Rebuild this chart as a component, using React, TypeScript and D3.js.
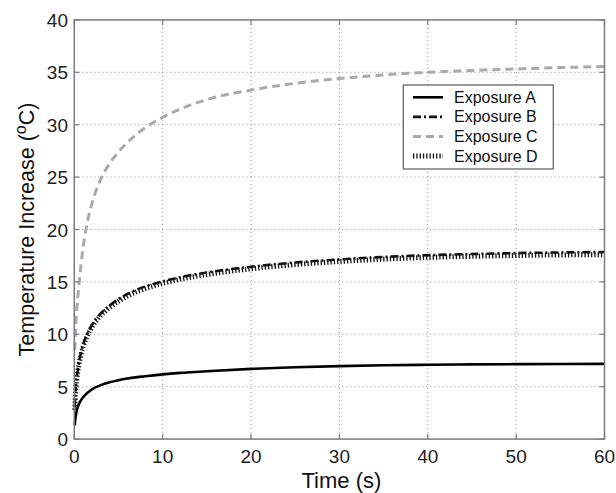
import React, { useEffect, useRef } from "react";
import * as d3 from "d3";

// time samples (s) and temperature increase (°C)
const times = [0.05, 0.1, 0.2, 0.3, 0.5, 0.75, 1, 1.5, 2, 3, 4, 5, 6, 8, 10, 12, 15, 20, 25, 30, 35, 40, 45, 50, 55, 60];
const exposureA = [1.3, 1.8, 2.4, 2.8, 3.3, 3.7, 4.0, 4.42, 4.75, 5.15, 5.42, 5.62, 5.78, 6.0, 6.18, 6.32, 6.48, 6.7, 6.85, 6.96, 7.04, 7.09, 7.13, 7.15, 7.17, 7.18];
const exposureB = [3.0, 4.0, 5.2, 6.0, 7.2, 8.2, 9.0, 10.1, 10.9, 12.0, 12.75, 13.35, 13.85, 14.55, 15.05, 15.45, 15.9, 16.45, 16.85, 17.15, 17.38, 17.55, 17.66, 17.75, 17.81, 17.85];
const exposureC = [8.5, 9.5, 11.3, 12.6, 14.5, 16.6, 18.3, 20.8, 22.5, 24.8, 26.3, 27.4, 28.3, 29.7, 30.7, 31.5, 32.4, 33.3, 33.95, 34.4, 34.75, 35.0, 35.18, 35.32, 35.45, 35.55];
const exposureD = [2.8, 3.8, 5.0, 5.8, 7.0, 8.0, 8.8, 9.9, 10.7, 11.8, 12.55, 13.15, 13.65, 14.35, 14.85, 15.25, 15.7, 16.25, 16.65, 16.95, 17.17, 17.33, 17.44, 17.52, 17.57, 17.6];
const seriesNames = ["Exposure A", "Exposure B", "Exposure C", "Exposure D"];
const xTicks = [0, 10, 20, 30, 40, 50, 60];
const yTicks = [0, 5, 10, 15, 20, 25, 30, 35, 40];

const styles = [
  { stroke: "#000", width: 2.6, dash: null },
  { stroke: "#111", width: 2.6, dash: "8,3,2,3" },
  { stroke: "#aaa", width: 3, dash: "8,5" },
  { stroke: "#111", width: 5, dash: "1.3,2" },
];

const App = () => {
  const ref = useRef<SVGSVGElement>(null);

  useEffect(() => {
    const svg = d3.select(ref.current);
    svg.selectAll("*").remove();

    const left = 74.3, right = 604.5, top = 19.9, bottom = 439.1;
    const font = "'Liberation Sans', Arial, sans-serif";

    const x = d3.scaleLinear().domain([0, 60]).range([left, right]);
    const y = d3.scaleLinear().domain([0, 40]).range([bottom, top]);

    // grid
    const grid = svg.append("g").attr("stroke", "#8a8a8a").attr("stroke-width", 1).attr("stroke-dasharray", "1,3");
    xTicks.slice(1, -1).forEach((t) => {
      grid.append("line").attr("x1", x(t)).attr("x2", x(t)).attr("y1", top).attr("y2", bottom);
    });
    yTicks.slice(1, -1).forEach((t) => {
      grid.append("line").attr("x1", left).attr("x2", right).attr("y1", y(t)).attr("y2", y(t));
    });

    // curves
    const allSeries = [exposureA, exposureB, exposureC, exposureD];
    const line = d3
      .line<number>()
      .x((d, i) => x(times[i]))
      .y((d) => y(d))
      .curve(d3.curveMonotoneX);

    const order = [2, 3, 1, 0];
    order.forEach((k) => {
      const s = styles[k];
      svg
        .append("path")
        .datum(allSeries[k])
        .attr("fill", "none")
        .attr("stroke", s.stroke)
        .attr("stroke-width", s.width)
        .attr("stroke-dasharray", s.dash)
        .attr("d", line);
    });

    // axes box and ticks
    const axisColor = "#7a7a7a";
    svg
      .append("rect")
      .attr("x", left)
      .attr("y", top)
      .attr("width", right - left)
      .attr("height", bottom - top)
      .attr("fill", "none")
      .attr("stroke", axisColor)
      .attr("stroke-width", 1.5);

    const ticks = svg.append("g").attr("stroke", axisColor).attr("stroke-width", 1.2);
    xTicks.forEach((t) => {
      ticks.append("line").attr("x1", x(t)).attr("x2", x(t)).attr("y1", bottom).attr("y2", bottom - 5);
      ticks.append("line").attr("x1", x(t)).attr("x2", x(t)).attr("y1", top).attr("y2", top + 5);
    });
    yTicks.forEach((t) => {
      ticks.append("line").attr("x1", left).attr("x2", left + 5).attr("y1", y(t)).attr("y2", y(t));
      ticks.append("line").attr("x1", right).attr("x2", right - 5).attr("y1", y(t)).attr("y2", y(t));
    });

    // tick labels
    svg
      .append("g")
      .selectAll("text")
      .data(xTicks)
      .enter()
      .append("text")
      .attr("x", (d) => x(d))
      .attr("y", 463)
      .attr("text-anchor", "middle")
      .attr("font-family", font)
      .attr("font-size", 19)
      .attr("fill", "#222")
      .text((d) => d);

    svg
      .append("g")
      .selectAll("text")
      .data(yTicks)
      .enter()
      .append("text")
      .attr("x", 68)
      .attr("y", (d) => y(d) + 7)
      .attr("text-anchor", "end")
      .attr("font-family", font)
      .attr("font-size", 19)
      .attr("fill", "#222")
      .text((d) => d);

    // axis titles
    svg
      .append("text")
      .attr("x", (left + right) / 2 + 2)
      .attr("y", 488)
      .attr("text-anchor", "middle")
      .attr("font-family", font)
      .attr("font-size", 22)
      .attr("fill", "#111")
      .text("Time (s)");

    const yTitle = svg
      .append("text")
      .attr("transform", `translate(34,${(top + bottom) / 2}) rotate(-90)`)
      .attr("text-anchor", "middle")
      .attr("font-family", font)
      .attr("font-size", 21.5)
      .attr("fill", "#111");
    yTitle.append("tspan").text("Temperature Increase (");
    yTitle.append("tspan").attr("dy", -8).attr("font-size", 16).text("o");
    yTitle.append("tspan").attr("dy", 8).text("C)");

    // legend
    const lg = svg.append("g");
    lg.append("rect")
      .attr("x", 403.3)
      .attr("y", 85)
      .attr("width", 150)
      .attr("height", 84)
      .attr("fill", "#fff")
      .attr("stroke", "#666")
      .attr("stroke-width", 1.3);
    seriesNames.forEach((name, i) => {
      const cy = 97.3 + i * 19.6;
      const s = styles[i];
      lg.append("line")
        .attr("x1", 413)
        .attr("x2", 443)
        .attr("y1", cy)
        .attr("y2", cy)
        .attr("stroke", s.stroke)
        .attr("stroke-width", s.width)
        .attr("stroke-dasharray", s.dash);
      lg.append("text")
        .attr("x", 454)
        .attr("y", cy + 5.5)
        .attr("font-family", font)
        .attr("font-size", 16)
        .attr("fill", "#111")
        .text(name);
    });
  }, []);

  return (
    <svg
      ref={ref}
      width={616}
      height={493}
      style={{ position: "absolute", left: 0, top: 0, background: "#fff" }}
    ></svg>
  );
};

export default App;
